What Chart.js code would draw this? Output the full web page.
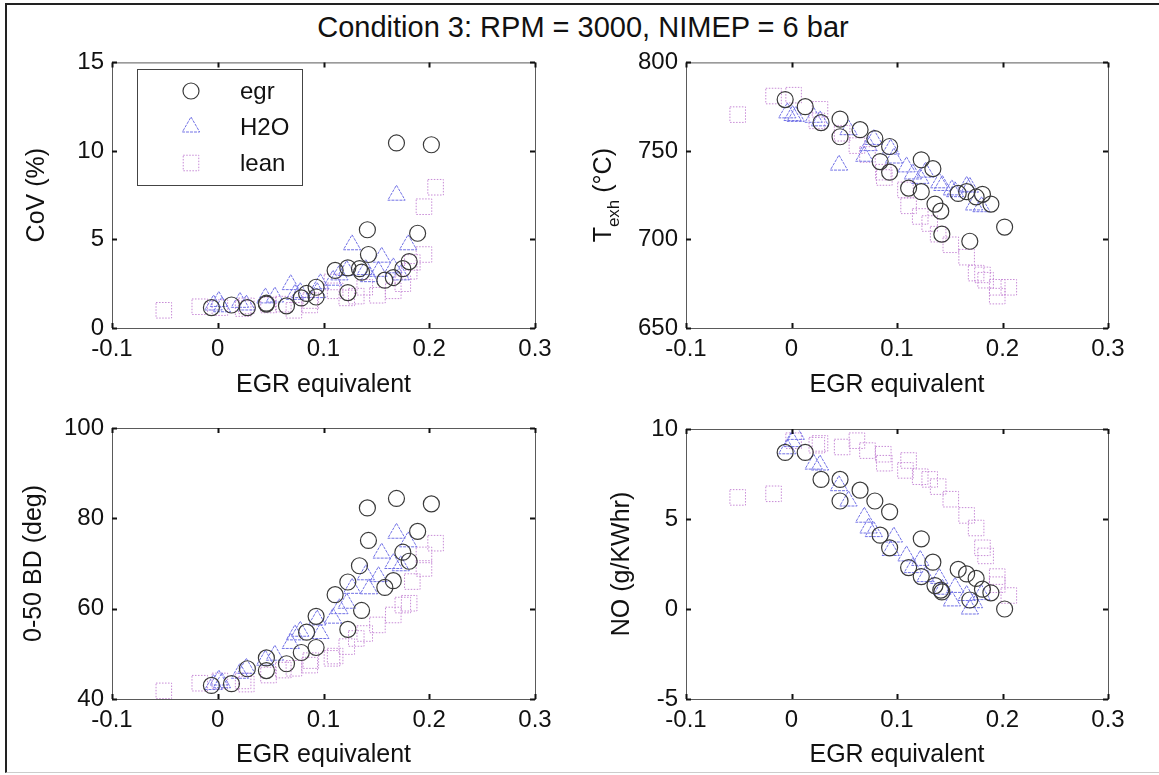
<!DOCTYPE html>
<html>
<head>
<meta charset="utf-8">
<title>Condition 3</title>
<script src="https://cdn.jsdelivr.net/npm/chart.js@4.4.1/dist/chart.umd.min.js"></script>
<style>
  html, body { margin: 0; padding: 0; background: #fff; }
  body { width: 1159px; height: 775px; position: relative; overflow: hidden;
         font-family: "Liberation Sans", Arial, sans-serif; }
  #frame { position: absolute; left: 5px; top: 3px; width: 1160px; height: 767px;
           border-left: 2px solid #222; border-top: 2px solid #222; border-bottom: 1px solid #ccc; }
  #title { position: absolute; left: 0; width: 1166px; top: 10px; line-height: 34px;
           text-align: center; font-size: 29px; color: #111; }
  canvas { position: absolute; }
</style>
</head>
<body>
<div id="frame"></div>
<div id="title">Condition 3: RPM = 3000, NIMEP = 6 bar</div>
<canvas id="cov"  width="570" height="360" style="left:0;top:40px"></canvas>
<canvas id="texh" width="570" height="360" style="left:570px;top:40px"></canvas>
<canvas id="bd"   width="570" height="370" style="left:0;top:400px"></canvas>
<canvas id="no"   width="570" height="370" style="left:570px;top:400px"></canvas>
<script>
// ---- test points: EGR equivalent on x, one y array per measured quantity ----
var egrX    = [-0.006, 0.013, 0.028, 0.046, 0.046, 0.065, 0.079, 0.084, 0.093, 0.093, 0.111, 0.123,
               0.123, 0.134, 0.136, 0.1415, 0.1425, 0.158, 0.166, 0.169, 0.175, 0.181, 0.189, 0.202];
var egrCov  = [1.15, 1.3, 1.15, 1.4, 1.35, 1.25, 1.7, 1.95, 2.3, 1.75, 3.25, 3.4,
               2.0, 3.35, 3.15, 5.55, 4.15, 2.7, 2.85, 10.45, 3.35, 3.75, 5.35, 10.35];
var egrTexh = [779, 775, 766, 768, 758, 762, 757, 744, 752.5, 738, 729, 745,
               727, 740, 720, 716, 703, 726, 727, 699, 724, 725.5, 720, 707];
var egrBd   = [43.0, 43.4, 46.7, 49.1, 46.3, 47.8, 50.3, 54.8, 58.3, 51.4, 63.1, 65.9,
               55.4, 69.5, 59.6, 82.3, 75.1, 64.7, 66.2, 84.4, 72.5, 70.5, 77.1, 83.2];
var egrNo   = [8.7, 8.7, 7.2, 7.2, 6.0, 6.6, 6.0, 4.1, 5.4, 3.4, 2.3, 3.9,
               1.8, 2.6, 1.3, 1.05, 0.95, 2.2, 1.95, 0.5, 1.7, 1.1, 0.9, 0.0];

var h2oX    = [-0.004, 0.001, 0.004, 0.021, 0.027, 0.045, 0.054, 0.069, 0.073, 0.078, 0.094, 0.097,
               0.109, 0.115, 0.122, 0.127, 0.140, 0.143, 0.152, 0.155, 0.166, 0.169, 0.173, 0.180];
var h2oCov  = [1.3, 1.5, 1.2, 1.45, 1.3, 1.7, 1.75, 2.45, 1.9, 2.0, 2.0, 2.5,
               2.7, 3.0, 3.25, 4.7, 3.3, 2.9, 3.2, 4.0, 3.4, 7.5, 3.0, 4.7];
var h2oTexh = [771.5, 770, 769.5, 769, 767, 742, 762, 747, 753, 756.5, 751, 746,
               741, 737, 734.5, 738, 732, 730.5, 728, 727, 730, 729.5, 719.5, 718.5];
var h2oBd   = [43.2, 44.2, 43.6, 45.7, 46.8, 48.6, 49.7, 52.3, 54.2, 55.0, 57.5, 54.5,
               57.9, 60.0, 61.2, 64.5, 67.5, 64.4, 67.1, 72.3, 70.0, 76.7, 69.5, 74.8];
var h2oNo   = [8.9, 9.3, 9.7, 8.05, 8.0, 6.85, 6.0, 5.1, 4.5, 4.3, 3.25, 4.0,
               2.95, 2.3, 2.7, 1.8, 1.7, 1.1, 0.45, 1.2, 0.75, 0.0, 0.35, 0.8];

var leanX    = [-0.051, -0.017, 0.002, 0.024, 0.027, 0.048, 0.062, 0.072, 0.087, 0.088, 0.108, 0.111,
                0.122, 0.131, 0.139, 0.151, 0.166, 0.175, 0.181, 0.184, 0.195, 0.195, 0.206];
var leanCov  = [1.0, 1.2, 1.15, 1.1, 1.25, 1.3, 1.35, 1.0, 1.3, 1.55, 2.6, 2.1,
                1.7, 1.8, 2.3, 1.85, 2.1, 2.5, 3.2, 3.7, 4.15, 6.85, 7.95];
var leanTexh = [770.5, 781, 781.5, 767, 773.5, 760, 753, 748, 738, 735, 728, 719,
                713, 709, 703, 697, 690, 681, 680, 677, 673, 668, 673];
var leanBd   = [41.8, 43.5, 44.0, 44.0, 43.3, 45.3, 46.4, 46.8, 47.5, 48.5, 49.0, 49.5,
                51.6, 53.4, 54.5, 56.4, 58.6, 60.8, 61.2, 66.0, 68.9, 71.9, 74.5];
var leanNo   = [6.2, 6.4, 9.35, 9.1, 9.2, 9.0, 9.35, 8.8, 8.6, 8.1, 7.7, 8.25,
                7.35, 7.2, 6.8, 6.1, 5.2, 4.5, 3.4, 2.95, 1.8, 1.35, 0.75];

var seriesNames = ["egr", "H2O", "lean"];
var xTicks = [-0.1, 0, 0.1, 0.2, 0.3];

var STYLE = {
  egr:  { pointStyle: "circle",   radius: 8,  color: "#3a3a3a", width: 1.2, dash: [] },
  H2O:  { pointStyle: "triangle", radius: 10, color: "#7272e6", width: 1,   dash: [3, 1] },
  lean: { pointStyle: "rect",     radius: 11, color: "#c78ad6", width: 1,   dash: [1.5, 1.5] }
};
var FONT = "'Liberation Sans', Arial, sans-serif";
var TICK_PX = 24, LABEL_PX = 25;

function pts(xs, ys) {
  return xs.map(function (x, i) { return { x: x, y: ys[i] }; });
}

function dataset(name, xs, ys) {
  var s = STYLE[name];
  return {
    label: name, data: pts(xs, ys), showLine: false,
    pointStyle: s.pointStyle, pointRadius: s.radius, pointHoverRadius: s.radius,
    borderColor: s.color, backgroundColor: "rgba(0,0,0,0)", pointBorderWidth: s.width,
    dotted: s.dash
  };
}

// dotted / dashed marker outlines
var markerDash = {
  id: "markerDash",
  beforeDatasetDraw: function (chart, args) {
    var ds = chart.data.datasets[args.index];
    chart.ctx.save();
    chart.ctx.setLineDash(ds.dotted || []);
  },
  afterDatasetDraw: function (chart) { chart.ctx.restore(); }
};

// axes box with inward tick marks on all four sides
var axesBox = {
  id: "axesBox",
  afterDraw: function (chart) {
    var ctx = chart.ctx, a = chart.chartArea, xs = chart.scales.x, ys = chart.scales.y;
    ctx.save();
    ctx.strokeStyle = "#5a5a5a";
    ctx.lineWidth = 1;
    ctx.strokeRect(a.left + 0.5, a.top + 0.5, a.right - a.left, a.bottom - a.top);
    ctx.strokeStyle = "#111";
    ctx.lineWidth = 2;
    ctx.beginPath();
    xs.ticks.forEach(function (t) {
      var px = Math.round(xs.getPixelForValue(t.value)) + 0.5;
      ctx.moveTo(px, a.bottom); ctx.lineTo(px, a.bottom - 5);
      ctx.moveTo(px, a.top); ctx.lineTo(px, a.top + 5);
    });
    ys.ticks.forEach(function (t) {
      var py = Math.round(ys.getPixelForValue(t.value)) + 0.5;
      ctx.moveTo(a.left, py); ctx.lineTo(a.left + 5, py);
      ctx.moveTo(a.right, py); ctx.lineTo(a.right - 5, py);
    });
    ctx.stroke();
    ctx.restore();
  }
};

// legend box inside the CoV axes
var legendBox = {
  id: "legendBox",
  afterDraw: function (chart) {
    var o = chart.options.plugins.legendBox;
    if (!o || !o.show) return;
    var ctx = chart.ctx;
    ctx.save();
    ctx.strokeStyle = "#444";
    ctx.lineWidth = 1;
    ctx.fillStyle = "#fff";
    ctx.fillRect(o.x, o.y, o.w, o.h);
    ctx.strokeRect(o.x + 0.5, o.y + 0.5, o.w, o.h);
    ctx.font = TICK_PX + "px " + FONT;
    ctx.textBaseline = "middle";
    ctx.textAlign = "left";
    seriesNames.forEach(function (name, i) {
      var s = STYLE[name], cy = o.rowY[i];
      ctx.save();
      ctx.strokeStyle = s.color;
      ctx.fillStyle = "rgba(0,0,0,0)";
      ctx.lineWidth = s.width;
      ctx.setLineDash(s.dash);
      Chart.helpers.drawPoint(ctx, { pointStyle: s.pointStyle, radius: s.radius, rotation: 0, borderWidth: s.width },
        o.markerX, cy);
      ctx.restore();
      ctx.fillStyle = "#111";
      ctx.fillText(name, o.textX, cy + 1);
    });
    ctx.restore();
  }
};

// y label with subscript: T_exh (°C)
var subLabel = {
  id: "subLabel",
  afterDraw: function (chart) {
    var o = chart.options.plugins.subLabel;
    if (!o || !o.show) return;
    var ctx = chart.ctx, a = chart.chartArea;
    var big = LABEL_PX + "px " + FONT, small = "17px " + FONT;
    ctx.save();
    ctx.translate(o.x, (a.top + a.bottom) / 2);
    ctx.rotate(-Math.PI / 2);
    ctx.fillStyle = "#111";
    ctx.textBaseline = "middle";
    ctx.textAlign = "left";
    ctx.font = big; var w1 = ctx.measureText("T").width, w3 = ctx.measureText(" (\u00B0C)").width;
    ctx.font = small; var w2 = ctx.measureText("exh").width;
    var x0 = -(w1 + w2 + w3) / 2;
    ctx.font = big; ctx.fillText("T", x0, 0);
    ctx.font = small; ctx.fillText("exh", x0 + w1, 10);
    ctx.font = big; ctx.fillText(" (\u00B0C)", x0 + w1 + w2, 0);
    ctx.restore();
  }
};

function fmtX(v) {
  if (Math.abs(v) < 1e-9) return "0";
  return (Math.round(v * 10) / 10).toFixed(1);
}

function makePanel(id, cfg) {
  var tickFont = { family: FONT, size: TICK_PX };
  return new Chart(document.getElementById(id), {
    type: "scatter",
    data: {
      datasets: [
        dataset("egr", egrX, cfg.egr),
        dataset("H2O", h2oX, cfg.h2o),
        dataset("lean", leanX, cfg.lean)
      ]
    },
    options: {
      responsive: false, animation: false, devicePixelRatio: 1,
      layout: { padding: { top: cfg.padTop, right: cfg.padRight, left: 0, bottom: 0 } },
      plugins: {
        legend: { display: false }, tooltip: { enabled: false },
        legendBox: cfg.legend || { show: false },
        subLabel: cfg.subLabel || { show: false }
      },
      scales: {
        x: {
          type: "linear", min: xTicks[0], max: xTicks[xTicks.length - 1],
          afterBuildTicks: function (s) { s.ticks = xTicks.map(function (v) { return { value: v }; }); },
          grid: { display: false, drawTicks: false }, border: { display: false },
          ticks: { font: tickFont, color: "#111", padding: 7, maxRotation: 0, autoSkip: false, callback: fmtX },
          title: { display: true, text: "EGR equivalent", color: "#111",
                   font: { family: FONT, size: LABEL_PX }, padding: { top: 0, bottom: cfg.xTitlePad } },
          afterFit: function (s) { s.height = cfg.xHeight; }
        },
        y: {
          type: "linear", min: cfg.yTicks[0], max: cfg.yTicks[cfg.yTicks.length - 1],
          afterBuildTicks: function (s) { s.ticks = cfg.yTicks.map(function (v) { return { value: v }; }); },
          grid: { display: false, drawTicks: false }, border: { display: false },
          ticks: { font: tickFont, color: "#111", padding: 8 },
          title: { display: !!cfg.yTitle, text: cfg.yTitle || "", color: "#111",
                   font: { family: FONT, size: LABEL_PX }, padding: { top: cfg.yTitlePad, bottom: 0 } },
          afterFit: function (s) { s.width = cfg.yWidth; }
        }
      }
    },
    plugins: [markerDash, axesBox, legendBox, subLabel]
  });
}

makePanel("cov", {
  egr: egrCov, h2o: h2oCov, lean: leanCov,
  yTicks: [0, 5, 10, 15], yTitle: "CoV (%)", yTitlePad: 22, yWidth: 112,
  padTop: 20, padRight: 35, xHeight: 72, xTitlePad: 0,
  legend: { show: true, x: 137, y: 29, w: 165, h: 116, markerX: 191, textX: 240, rowY: [51, 87, 123] }
});
makePanel("texh", {
  egr: egrTexh, h2o: h2oTexh, lean: leanTexh,
  yTicks: [650, 700, 750, 800], yTitle: null, yWidth: 116,
  padTop: 19, padRight: 32, xHeight: 72, xTitlePad: 0,
  subLabel: { show: true, x: 34 }
});
makePanel("bd", {
  egr: egrBd, h2o: h2oBd, lean: leanBd,
  yTicks: [40, 60, 80, 100], yTitle: "0-50 BD (deg)", yTitlePad: 19, yWidth: 112,
  padTop: 28, padRight: 35, xHeight: 71, xTitlePad: 0
});
makePanel("no", {
  egr: egrNo, h2o: h2oNo, lean: leanNo,
  yTicks: [-5, 0, 5, 10], yTitle: "NO (g/KWhr)", yTitlePad: 37, yWidth: 116,
  padTop: 29, padRight: 32, xHeight: 71, xTitlePad: 0
});
</script>
</body>
</html>
